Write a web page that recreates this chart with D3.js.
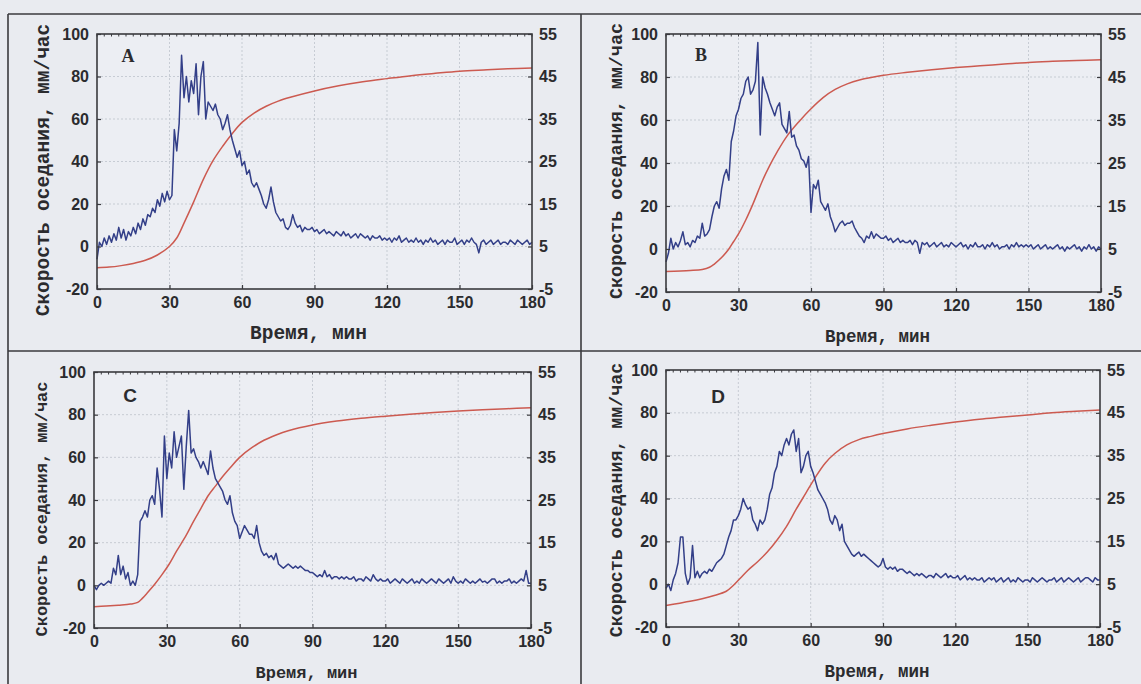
<!DOCTYPE html>
<html>
<head>
<meta charset="utf-8">
<script src="https://cdn.jsdelivr.net/npm/d3@7"></script>
<style>
  html, body { margin: 0; padding: 0; background: #e9ebf0; }
  svg { display: block; }
</style>
</head>
<body>
<svg id="chart" width="1141" height="684"></svg>
<script>
// ---------------- DATA ----------------
const panelLetters = ["A", "B", "C", "D"];
const xTicks = [0, 30, 60, 90, 120, 150, 180];
const yLeftTicks = [-20, 0, 20, 40, 60, 80, 100];
const yRightTicks = [-5, 5, 15, 25, 35, 45, 55];
const xTitle = "Время, мин";
const yTitle = "Скорость оседания, мм/час";

// Blue series (settling rate, mm/h) sampled every minute, t = 0..180
const rateA = [
  -6, 2, 0, 4, 1, 5, 2, 6, 3, 9,
  4, 8, 3, 7, 5, 9, 6, 11, 8, 13,
  10, 15, 14, 18, 16, 22, 19, 25, 21, 26,
  22, 24, 55, 45, 58, 90, 70, 80, 68, 78,
  72, 86, 62, 80, 87, 60, 68, 66, 64, 67,
  62, 60, 55, 58, 62, 55, 50, 46, 42, 45,
  38, 40, 34, 36, 30, 28, 30, 27, 24, 20,
  18, 22, 28, 21, 16, 14, 12, 13, 9, 8,
  10, 15, 11, 9, 10, 7, 9, 8, 8, 9,
  7, 8, 6, 7, 8, 6, 7, 6, 5, 7,
  6, 5, 7, 5, 6, 4, 5, 6, 4, 6,
  5, 4, 5, 3, 5, 4, 4, 5, 3, 4,
  3, 4, 2, 4, 3, 5, 2, 3, 4, 2,
  3, 2, 4, 2, 3, 1, 3, 2, 4, 2,
  3, 1, 2, 3, 1, 3, 2, 2, 4, 1,
  2, 3, 1, 3, 2, 4, 2, 1, -3, 2,
  3, 1, 2, 3, 1, 2, 3, 1, 2, 2,
  1, 3, 2, 1, 3, 2, 1, 2, 3, 1, 2
];
const rateB = [
  -6, -2, 5, 0, 3, 1, 4, 8, 2, 3,
  1, 4, 3, 6, 5, 12, 6, 7, 9, 15,
  20, 22, 19, 28, 34, 37, 32, 50, 55, 62,
  65, 70, 72, 78, 80, 72, 74, 78, 96, 53,
  80, 75, 72, 68, 65, 62, 66, 68, 58, 56,
  54, 64, 52, 53, 48, 46, 42, 41, 38, 43,
  17, 30, 28, 32, 22, 20, 18, 21, 15, 12,
  8, 10, 12, 13, 11, 12, 12, 13, 10, 8,
  6, 5, 3, 6, 5, 8, 5, 7, 6, 5,
  5, 6, 4, 5, 3, 4, 5, 3, 4, 3,
  3, 4, 2, 4, 3, -2, 3, 2, 3, 1,
  2, 3, 1, 2, 3, 1, 2, 1, 3, 2,
  1, 2, 3, 1, 2, 0, 2, 1, 3, 1,
  1, 2, 0, 2, 1, 3, 1, 2, 0, 1,
  1, 2, 0, 2, 1, 3, 1, 2, 1, 2,
  1, 2, 0, 1, 2, 0, 1, 2, 0, 1,
  0, 1, 2, 0, 1, -1, 1, 0, 1, 2,
  0, 1, -1, 1, 0, 2, 0, 1, -1, 1, 0
];
const rateC = [
  0, -2, 0, 1, 0, 1, 2, 1, 8, 5,
  14, 5, 9, 3, 6, 0, 2, 0, 5, 30,
  32, 35, 32, 40, 42, 38, 55, 45, 32, 70,
  50, 62, 55, 72, 60, 65, 70, 45, 65, 82,
  62, 64, 60, 58, 55, 58, 55, 52, 63, 55,
  50, 48, 46, 44, 40, 38, 42, 34, 30, 28,
  22, 25, 28, 26, 24, 24, 22, 28, 20, 16,
  14, 15, 13, 14, 12, 15, 10, 9, 8, 9,
  10, 9, 8, 9, 8, 9, 8, 7, 7, 6,
  6, 5, 4, 5, 4, 7, 4, 5, 3, 4,
  4, 3, 4, 3, 4, 3, 3, 4, 2, 3,
  3, 2, 4, 3, 2, 5, 3, 2, 3, 2,
  2, 3, 1, 2, 3, 2, 1, 3, 2, 1,
  2, 3, 1, 2, 1, 3, 2, 1, 2, 3,
  2, 1, 3, 2, 1, 2, 3, 1, 4, 2,
  1, 2, 1, 3, 2, 1, 2, 1, 2, 3,
  1.5, 2, 1, 2, 3, 3, 1, 2, 1, 2,
  2, 3, 1, 2, 1, 2, 3, 2, 7, 1, 1
];
const rateD = [
  -2, 0, -3, 2, 5, 10, 22, 22, 5, 0,
  3, 18, 3, 6, 3, 5, 6, 5, 7, 6,
  8, 10, 11, 12, 14, 18, 22, 25, 30, 30,
  32, 35, 40, 37, 35, 36, 30, 28, 25, 30,
  28, 30, 35, 42, 45, 52, 55, 62, 60, 65,
  68, 65, 70, 72, 62, 68, 52, 55, 60, 62,
  55, 52, 48, 44, 42, 40, 38, 35, 30, 28,
  32, 30, 25, 28, 20, 18, 16, 14, 13, 14,
  15, 13, 14, 13, 12, 11, 10, 9, 8, 9,
  12, 8, 7, 8, 7, 8, 6, 7, 7, 6,
  5, 6, 5, 4, 5, 4, 5, 4, 3, 4,
  4, 3, 5, 4, 3, 4, 5, 3, 4, 3,
  3, 4, 2, 3, 4, 2, 3, 2, 3, 2,
  2, 3, 1, 2, 3, 2, 3, 1, 2, 3,
  1, 2, 3, 1, 2, 1, 3, 2, 1, 2,
  2, 1, 3, 2, 1, 2, 3, 2, 1, 2,
  2, 3, 1, 2, 3, 1, 2, 3, 2, 1,
  2, 3, 1, 2, 3, 3, 2, 1, 3, 2, 2
];

// Red series (sediment height, right axis) read at selected times
const heightTimesA = [0, 5, 10, 15, 20, 25, 30, 33, 36, 40, 44, 48, 52, 56, 60, 65, 70, 75, 80, 90, 100, 110, 120, 130, 140, 150, 160, 170, 180];
const heightA = [0, 0.15, 0.5, 1, 1.75, 3, 5, 7, 10.5, 15.5, 20.8, 25.2, 28.6, 31.6, 34.2, 36.4, 38, 39.2, 40.1, 41.6, 42.8, 43.75, 44.5, 45.2, 45.75, 46.25, 46.55, 46.8, 47];
const heightTimesB = [0, 10, 15, 18, 20, 23, 26, 28, 30, 33, 36, 40, 43, 46, 50, 55, 60, 65, 70, 75, 80, 90, 100, 110, 120, 130, 140, 150, 160, 170, 180];
const heightB = [-0.25, 0, 0.25, 0.75, 1.5, 3, 5, 6.75, 8.5, 11.75, 15.5, 21, 24.5, 27.6, 31.2, 34.6, 37.6, 40.2, 42.1, 43.4, 44.3, 45.4, 46.1, 46.7, 47.2, 47.6, 48, 48.4, 48.65, 48.85, 49];
const heightTimesC = [0, 5, 10, 15, 18, 20, 22, 25, 28, 31, 34, 38, 41, 44, 47, 50, 53, 56, 60, 65, 70, 75, 80, 90, 100, 110, 120, 130, 140, 150, 160, 170, 180];
const heightC = [0, 0.15, 0.35, 0.6, 1, 2, 3.25, 5.25, 7.5, 10, 13, 16.75, 20, 23, 26, 28.25, 30.5, 32.5, 35, 37.25, 39, 40.25, 41.25, 42.6, 43.5, 44.15, 44.65, 45.1, 45.5, 45.85, 46.15, 46.4, 46.6];
const heightTimesD = [0, 5, 10, 15, 20, 25, 28, 31, 34, 38, 42, 46, 50, 54, 58, 62, 66, 70, 75, 80, 85, 90, 100, 110, 120, 130, 140, 150, 160, 170, 180];
const heightD = [0, 0.5, 1, 1.6, 2.35, 3.35, 4.75, 6.5, 8.25, 10.25, 12.5, 15.25, 18.5, 22.5, 26.25, 30, 33.25, 35.5, 37.5, 38.75, 39.5, 40.15, 41.25, 42.1, 42.85, 43.5, 44, 44.5, 45, 45.35, 45.65];

const rates = [rateA, rateB, rateC, rateD];
const heightTimes = [heightTimesA, heightTimesB, heightTimesC, heightTimesD];
const heights = [heightA, heightB, heightC, heightD];

// ---------------- LAYOUT ----------------
const layout = [
  { x0: 97, x1: 532, y0: 34, y1: 289, lx: 128, ly: 62, lfont: "serif", ytx: 43, yty: 170, yts: 19.5, xts: 19.5 },
  { x0: 666, x1: 1101, y0: 34, y1: 292, lx: 701, ly: 61, lfont: "serif", ytx: 616, yty: 161, yts: 18.4, xts: 17.5 },
  { x0: 94, x1: 531, y0: 372, y1: 628, lx: 130, ly: 402, lfont: "sans", ytx: 42, yty: 509, yts: 17, xts: 17 },
  { x0: 666, x1: 1100, y0: 370, y1: 627, lx: 718, ly: 403, lfont: "sans", ytx: 616, yty: 500, yts: 18.3, xts: 17.5 }
];

const BLUE = "#333f88";
const RED = "#cc5a50";
const INK = "#2b2b2e";
const GRID = "#c3c7d0";
const SANS = "'Liberation Sans', Arial, sans-serif";
const MONO = "'Liberation Mono', 'Courier New', monospace";
const SERIF = "'Liberation Serif', 'Times New Roman', serif";

const svg = d3.select("#chart");

svg.append("rect").attr("width", 1141).attr("height", 684).attr("fill", "#e9ebf0");

// outer frame and dividers
const frame = svg.append("g").attr("stroke", "#3a3a3e").attr("stroke-width", 1.6).attr("fill", "none");
frame.append("line").attr("x1", 8).attr("y1", 14).attr("x2", 1141).attr("y2", 14);
frame.append("line").attr("x1", 8).attr("y1", 14).attr("x2", 8).attr("y2", 684);
frame.append("line").attr("x1", 581).attr("y1", 14).attr("x2", 581).attr("y2", 684);
frame.append("line").attr("x1", 8).attr("y1", 351).attr("x2", 1141).attr("y2", 351);

const fmt = d => String(d);

layout.forEach((L, i) => {
  const g = svg.append("g");
  const x = d3.scaleLinear().domain([0, 180]).range([L.x0, L.x1]);
  const yL = d3.scaleLinear().domain([-20, 100]).range([L.y1, L.y0]);
  const yR = d3.scaleLinear().domain([-5, 55]).range([L.y1, L.y0]);
  const W = L.x1 - L.x0, H = L.y1 - L.y0;

  g.append("rect").attr("x", L.x0).attr("y", L.y0).attr("width", W).attr("height", H)
    .attr("fill", "#eceef3");

  // grid
  const grid = g.append("g").attr("stroke", GRID).attr("stroke-width", 0.9).attr("stroke-dasharray", "2,2");
  xTicks.slice(1, -1).forEach(t => {
    grid.append("line").attr("x1", x(t)).attr("x2", x(t)).attr("y1", L.y0).attr("y2", L.y1);
  });
  yLeftTicks.slice(1, -1).forEach(t => {
    grid.append("line").attr("x1", L.x0).attr("x2", L.x1).attr("y1", yL(t)).attr("y2", yL(t));
  });

  // red curve (right axis)
  const redPts = heightTimes[i].map((t, k) => [t, heights[i][k]]);
  g.append("path").datum(redPts)
    .attr("fill", "none").attr("stroke", RED).attr("stroke-width", 1.5)
    .attr("d", d3.line().x(d => x(d[0])).y(d => yR(d[1])).curve(d3.curveCatmullRom.alpha(0.5)));

  // blue noisy curve (left axis)
  const bluePts = rates[i].map((v, k) => [k, v]);
  g.append("path").datum(bluePts)
    .attr("fill", "none").attr("stroke", BLUE).attr("stroke-width", 1.5).attr("stroke-linejoin", "round")
    .attr("d", d3.line().x(d => x(d[0])).y(d => yL(d[1])));

  // axes
  const styleAxis = sel => {
    sel.select(".domain").remove();
    sel.selectAll(".tick line").attr("stroke", "#3a3a3e").attr("stroke-width", 1.2);
    sel.selectAll(".tick text").attr("fill", INK).attr("font-family", SANS)
      .attr("font-weight", "bold").attr("font-size", 16);
  };
  g.append("g").attr("transform", `translate(0,${L.y1})`)
    .call(d3.axisBottom(x).tickValues(xTicks).tickFormat(fmt).tickSizeInner(-4).tickSizeOuter(0).tickPadding(8))
    .call(styleAxis);
  g.append("g").attr("transform", `translate(${L.x0},0)`)
    .call(d3.axisLeft(yL).tickValues(yLeftTicks).tickFormat(fmt).tickSizeInner(-4).tickSizeOuter(0).tickPadding(8))
    .call(styleAxis);
  g.append("g").attr("transform", `translate(${L.x1},0)`)
    .call(d3.axisRight(yR).tickValues(yRightTicks).tickFormat(fmt).tickSizeInner(-4).tickSizeOuter(0).tickPadding(7))
    .call(styleAxis);
  // top minor ticks
  const top = g.append("g").attr("stroke", "#3a3a3e").attr("stroke-width", 1);
  d3.range(0, 181, 3).forEach(t => {
    top.append("line").attr("x1", x(t)).attr("x2", x(t)).attr("y1", L.y0).attr("y2", L.y0 + 2.5);
  });

  // frame of plot
  g.append("rect").attr("x", L.x0).attr("y", L.y0).attr("width", W).attr("height", H)
    .attr("fill", "none").attr("stroke", "#3a3a3e").attr("stroke-width", 1.6);

  // panel letter
  g.append("text").attr("x", L.lx).attr("y", L.ly).attr("text-anchor", "middle")
    .attr("font-family", L.lfont === "serif" ? SERIF : SANS).attr("font-weight", "bold")
    .attr("font-size", L.lfont === "serif" ? 18 : 19).attr("fill", INK)
    .text(panelLetters[i]);

  // x title
  g.append("text").attr("x", (L.x0 + L.x1) / 2 - 6).attr("y", L.y1 + 50).attr("text-anchor", "middle")
    .attr("font-family", MONO).attr("font-weight", "bold").attr("font-size", L.xts).attr("fill", INK)
    .text(xTitle);

  // y title
  g.append("text").attr("transform", `translate(${L.ytx},${L.yty}) rotate(-90)`)
    .attr("text-anchor", "middle").attr("dy", "0.3em")
    .attr("font-family", MONO).attr("font-weight", "bold").attr("font-size", L.yts).attr("fill", INK)
    .text(yTitle);
});
</script>
</body>
</html>
